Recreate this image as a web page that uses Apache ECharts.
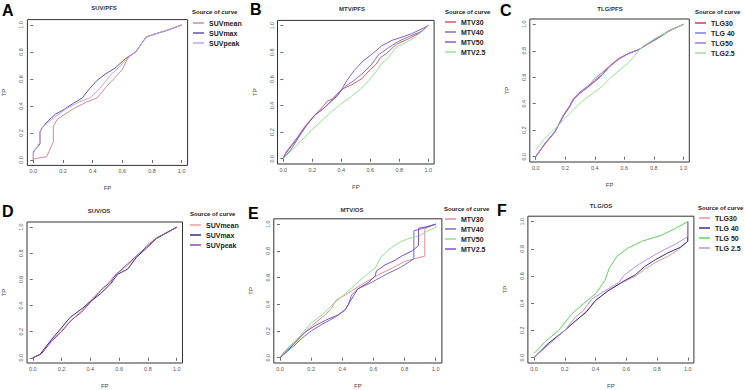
<!DOCTYPE html>
<html><head><meta charset="utf-8">
<script src="https://cdn.jsdelivr.net/npm/echarts@6/dist/echarts.min.js"></script>
<style>html,body{margin:0;padding:0;background:#fff}#c{width:745px;height:390px}</style>
</head><body><div id="c"></div><script>
// ---------- labels ----------
const tickValues = [0, 0.2, 0.4, 0.6, 0.8, 1.0];
const panelLetters = ['A', 'B', 'C', 'D', 'E', 'F'];
const panelTitles = ['SUV/PFS', 'MTV/PFS', 'TLG/PFS', 'SUV/OS', 'MTV/OS', 'TLG/OS'];
const legendTitle = 'Source of curve';
const xName = 'FP';
const yName = 'TP';
const namesA = ['SUVmean', 'SUVmax', 'SUVpeak'];
const namesB = ['MTV30', 'MTV40', 'MTV50', 'MTV2.5'];
const namesC = ['TLG30', 'TLG 40', 'TLG50', 'TLG2.5'];
const namesD = ['SUVmean', 'SUVmax', 'SUVpeak'];
const namesE = ['MTV30', 'MTV40', 'MTV50', 'MTV2.5'];
const namesF = ['TLG30', 'TLG 40', 'TLG 50', 'TLG 2.5'];

// ---------- data: [FP, TP] ----------
const A_SUVmean = [[0,0],[0.01,0.01],[0.09,0.025],[0.135,0.135],[0.135,0.25],[0.16,0.30],[0.2,0.33],[0.27,0.38],[0.36,0.43],[0.43,0.46],[0.49,0.54],[0.55,0.61],[0.6,0.67],[0.63,0.74],[0.65,0.77],[0.69,0.80],[0.76,0.91],[0.81,0.93],[0.9,0.96],[1,1]];
const A_SUVmax = [[0,0],[0,0.06],[0.045,0.12],[0.045,0.21],[0.06,0.24],[0.1,0.29],[0.15,0.34],[0.2,0.37],[0.27,0.42],[0.33,0.46],[0.38,0.53],[0.43,0.59],[0.49,0.64],[0.55,0.68],[0.62,0.75],[0.69,0.80],[0.76,0.91],[0.81,0.93],[0.9,0.96],[1,1]];
const A_SUVpeak = [[0,0],[0,0.05],[0.045,0.135],[0.05,0.22],[0.07,0.25],[0.135,0.31],[0.22,0.38],[0.31,0.43],[0.38,0.46],[0.45,0.53],[0.52,0.63],[0.58,0.69],[0.64,0.76],[0.69,0.80],[0.76,0.91],[0.81,0.93],[0.9,0.96],[1,1]];

const B_MTV30 = [[0,0],[0.01,0.03],[0.035,0.065],[0.09,0.14],[0.14,0.23],[0.21,0.32],[0.28,0.40],[0.3,0.43],[0.34,0.45],[0.4,0.52],[0.47,0.555],[0.54,0.60],[0.6,0.67],[0.64,0.71],[0.67,0.76],[0.71,0.79],[0.78,0.86],[0.86,0.90],[0.93,0.94],[1,1]];
const B_MTV40 = [[0,0],[0.06,0.08],[0.10,0.15],[0.16,0.25],[0.21,0.32],[0.29,0.39],[0.36,0.47],[0.43,0.545],[0.49,0.59],[0.55,0.645],[0.61,0.71],[0.655,0.78],[0.72,0.83],[0.79,0.88],[0.87,0.92],[0.95,0.955],[1,1]];
const B_MTV50 = [[0,0],[0.02,0.05],[0.1,0.165],[0.16,0.25],[0.22,0.33],[0.27,0.37],[0.31,0.41],[0.38,0.48],[0.44,0.59],[0.49,0.665],[0.55,0.735],[0.61,0.785],[0.68,0.85],[0.75,0.89],[0.82,0.915],[0.885,0.94],[1,1]];
const B_MTV25 = [[0,0],[0.06,0.065],[0.13,0.14],[0.195,0.215],[0.26,0.28],[0.33,0.35],[0.40,0.415],[0.47,0.47],[0.53,0.52],[0.59,0.59],[0.64,0.655],[0.68,0.72],[0.72,0.755],[0.78,0.84],[0.84,0.87],[0.91,0.915],[0.95,0.95],[1,1]];

const C_TLG30 = [[0,0],[0.063,0.10],[0.13,0.19],[0.19,0.315],[0.23,0.38],[0.255,0.43],[0.30,0.48],[0.37,0.54],[0.40,0.575],[0.45,0.62],[0.50,0.685],[0.56,0.74],[0.63,0.78],[0.70,0.81],[0.76,0.855],[0.83,0.90],[0.90,0.95],[1,1]];
const C_TLG40 = [[0,0],[0.063,0.095],[0.13,0.185],[0.19,0.31],[0.23,0.375],[0.255,0.43],[0.30,0.48],[0.37,0.54],[0.40,0.565],[0.45,0.615],[0.50,0.68],[0.56,0.735],[0.63,0.78],[0.70,0.81],[0.76,0.85],[0.83,0.895],[0.90,0.945],[1,1]];
const C_TLG50 = [[0,0],[0.063,0.10],[0.13,0.19],[0.19,0.32],[0.23,0.385],[0.255,0.44],[0.30,0.49],[0.37,0.55],[0.40,0.59],[0.47,0.655],[0.52,0.70],[0.57,0.745],[0.63,0.78],[0.70,0.81],[0.77,0.86],[0.84,0.91],[0.90,0.95],[1,1]];
const C_TLG25 = [[0,0.05],[0.063,0.14],[0.13,0.21],[0.19,0.28],[0.31,0.415],[0.45,0.53],[0.51,0.60],[0.63,0.71],[0.72,0.83],[0.81,0.895],[0.90,0.945],[1,1]];

const D_SUVmean = [[0,0],[0.05,0.025],[0.11,0.11],[0.19,0.20],[0.26,0.28],[0.34,0.36],[0.40,0.44],[0.47,0.515],[0.52,0.565],[0.565,0.63],[0.63,0.68],[0.70,0.75],[0.75,0.80],[0.79,0.86],[0.86,0.92],[1,1]];
const D_SUVmax = [[0,0],[0.05,0.025],[0.13,0.14],[0.20,0.23],[0.26,0.31],[0.34,0.375],[0.40,0.43],[0.47,0.49],[0.54,0.565],[0.59,0.64],[0.66,0.68],[0.72,0.77],[0.79,0.84],[0.86,0.915],[1,1]];
const D_SUVpeak = [[0,0],[0.06,0.03],[0.13,0.125],[0.2,0.2],[0.27,0.29],[0.34,0.35],[0.42,0.45],[0.485,0.53],[0.54,0.58],[0.58,0.64],[0.64,0.70],[0.71,0.77],[0.79,0.85],[0.86,0.915],[1,1]];

const E_MTV30 = [[0,0],[0.03,0.05],[0.096,0.12],[0.16,0.19],[0.225,0.26],[0.29,0.32],[0.33,0.37],[0.36,0.43],[0.42,0.47],[0.48,0.515],[0.55,0.565],[0.63,0.62],[0.72,0.67],[0.80,0.72],[0.86,0.74],[0.93,0.76],[0.93,0.965],[0.96,0.98],[1,1]];
const E_MTV40 = [[0,0],[0.05,0.05],[0.096,0.095],[0.14,0.145],[0.20,0.20],[0.27,0.25],[0.35,0.30],[0.42,0.36],[0.44,0.40],[0.46,0.47],[0.50,0.515],[0.59,0.565],[0.675,0.62],[0.78,0.68],[0.86,0.74],[0.86,0.95],[0.91,0.965],[1,1]];
const E_MTV50 = [[0,0],[0.075,0.095],[0.14,0.18],[0.20,0.26],[0.27,0.32],[0.34,0.40],[0.42,0.48],[0.50,0.565],[0.57,0.635],[0.61,0.67],[0.65,0.755],[0.70,0.81],[0.76,0.86],[0.82,0.89],[0.89,0.91],[0.95,0.95],[1,0.975],[1,1]];
const E_MTV25 = [[0,0],[0.096,0.11],[0.16,0.19],[0.225,0.24],[0.31,0.29],[0.375,0.32],[0.42,0.36],[0.46,0.44],[0.50,0.515],[0.57,0.565],[0.61,0.61],[0.62,0.65],[0.675,0.695],[0.74,0.73],[0.78,0.76],[0.85,0.80],[0.89,0.84],[0.89,0.97],[0.94,0.98],[1,1]];

const F_TLG30 = [[0,0],[0.093,0.104],[0.20,0.20],[0.27,0.27],[0.34,0.34],[0.40,0.42],[0.48,0.49],[0.57,0.55],[0.66,0.60],[0.72,0.65],[0.79,0.70],[0.87,0.745],[0.94,0.795],[1,0.855],[1,1]];
const F_TLG40 = [[0,0],[0.093,0.104],[0.20,0.20],[0.27,0.27],[0.34,0.335],[0.40,0.42],[0.48,0.49],[0.58,0.56],[0.66,0.61],[0.72,0.67],[0.79,0.72],[0.87,0.77],[0.95,0.81],[1,0.855],[1,1]];
const F_TLG50 = [[0,0.03],[0.07,0.115],[0.16,0.20],[0.245,0.32],[0.32,0.395],[0.40,0.47],[0.46,0.565],[0.49,0.66],[0.54,0.745],[0.61,0.805],[0.70,0.855],[0.83,0.90],[0.92,0.95],[1,1]];
const F_TLG25 = [[0,0],[0.20,0.20],[0.27,0.30],[0.32,0.345],[0.375,0.43],[0.46,0.49],[0.55,0.55],[0.59,0.61],[0.68,0.685],[0.77,0.745],[0.85,0.795],[0.93,0.84],[1,0.89],[1,1]];

// ---------- styling / layout ----------
const panels = [
  {names: namesA, data: [A_SUVmean, A_SUVmax, A_SUVpeak], colors: ['#d98a90', '#5b56b0', '#c2a4ea'],
   grid: {left: 27.4, top: 19.6, width: 160.2, height: 145.8}, letter: [2, 10], title: [104, 8], legend: [193, 18], head: [192, 12]},
  {names: namesB, data: [B_MTV30, B_MTV40, B_MTV50, B_MTV25], colors: ['#d0606c', '#7a78c8', '#8e5cc4', '#98e098'],
   grid: {left: 277.5, top: 20.4, width: 156.6, height: 143.6}, letter: [250, 9], title: [352, 9], legend: [445, 17], head: [445, 12]},
  {names: namesC, data: [C_TLG30, C_TLG40, C_TLG50, C_TLG25], colors: ['#c0404f', '#7b7fd0', '#b070d0', '#9ee09e'],
   grid: {left: 529.8, top: 19, width: 159.5, height: 143}, letter: [500, 10], title: [610, 9], legend: [695, 18], head: [695, 12]},
  {names: namesD, data: [D_SUVmean, D_SUVmax, D_SUVpeak], colors: ['#e8a0a0', '#2f2f80', '#8a4aa8'],
   grid: {left: 25.2, top: 222, width: 157.3, height: 143.3}, letter: [2, 211], title: [99, 210.5], legend: [190, 220], head: [190, 214]},
  {names: namesE, data: [E_MTV30, E_MTV40, E_MTV50, E_MTV25], colors: ['#e09090', '#7070c8', '#90e090', '#8050c0'],
   grid: {left: 273.8, top: 218.8, width: 168.1, height: 150.1}, letter: [248, 213.5], title: [352, 210], legend: [445, 214], head: [444, 209]},
  {names: namesF, data: [F_TLG30, F_TLG40, F_TLG50, F_TLG25], colors: ['#e09a9a', '#353580', '#60d060', '#b890e0'],
   grid: {left: 527.9, top: 216.2, width: 166, height: 148.6}, letter: [497, 210], title: [601, 206], legend: [699, 213], head: [698, 208]}
];

const FONT = 'Liberation Sans';
const grids = [], xAxes = [], yAxes = [], series = [], legends = [], graphics = [];
panels.forEach((p, i) => {
  grids.push(Object.assign({show: true, borderColor: '#333', borderWidth: 1, backgroundColor: 'transparent'}, p.grid));
  const axisBase = {
    type: 'value', gridIndex: i, min: -0.04, max: 1.04,
    axisLine: {show: false},
    axisTick: {show: true, length: 3, customValues: tickValues, lineStyle: {color: '#444', width: 0.8}},
    axisLabel: {customValues: tickValues, formatter: v => v.toFixed(1), fontSize: 5.5, color: '#555', margin: 3, fontFamily: FONT},
    splitLine: {show: false},
    nameLocation: 'middle', nameGap: 20,
    nameTextStyle: {fontSize: 6, color: '#444', fontFamily: FONT}
  };
  xAxes.push(Object.assign({}, axisBase, {name: xName}));
  yAxes.push(Object.assign({}, axisBase, {name: yName,
    axisLabel: Object.assign({}, axisBase.axisLabel, {rotate: 90})}));
  const legendNames = [];
  p.names.forEach((n, k) => {
    const sn = panelLetters[i] + '|' + n;
    legendNames.push(sn);
    series.push({
      type: 'line', name: sn, xAxisIndex: i, yAxisIndex: i, data: p.data[k],
      symbol: 'none', showSymbol: false, smooth: false, animation: false, silent: true,
      lineStyle: {color: p.colors[k], width: 1}, itemStyle: {color: p.colors[k]}
    });
  });
  legends.push({
    data: legendNames, left: p.legend[0], top: p.legend[1], orient: 'vertical', padding: 0,
    icon: 'rect', itemWidth: 11, itemHeight: 1.5, itemGap: 0, selectedMode: false,
    formatter: n => n.split('|')[1],
    textStyle: {fontSize: 7, fontWeight: 'bold', color: '#222', lineHeight: 10, fontFamily: FONT}
  });
  graphics.push({type: 'text', x: p.letter[0], y: p.letter[1], silent: true,
    style: {text: panelLetters[i], font: 'bold 16px ' + FONT, fill: '#000', align: 'left', verticalAlign: 'middle'}});
  graphics.push({type: 'text', x: p.title[0], y: p.title[1], silent: true,
    style: {text: panelTitles[i], font: 'bold 6px ' + FONT, fill: '#333', align: 'center', verticalAlign: 'middle'}});
  graphics.push({type: 'text', x: p.head[0], y: p.head[1], silent: true,
    style: {text: legendTitle, font: 'bold 6px "Liberation Sans"', fill: '#222', align: 'left', verticalAlign: 'middle'}});
});

const chart = echarts.init(document.getElementById('c'), null, {renderer: 'svg', width: 745, height: 390});
chart.setOption({
  backgroundColor: '#fff', animation: false,
  grid: grids, xAxis: xAxes, yAxis: yAxes, series: series, legend: legends, graphic: graphics
});
</script></body></html>
